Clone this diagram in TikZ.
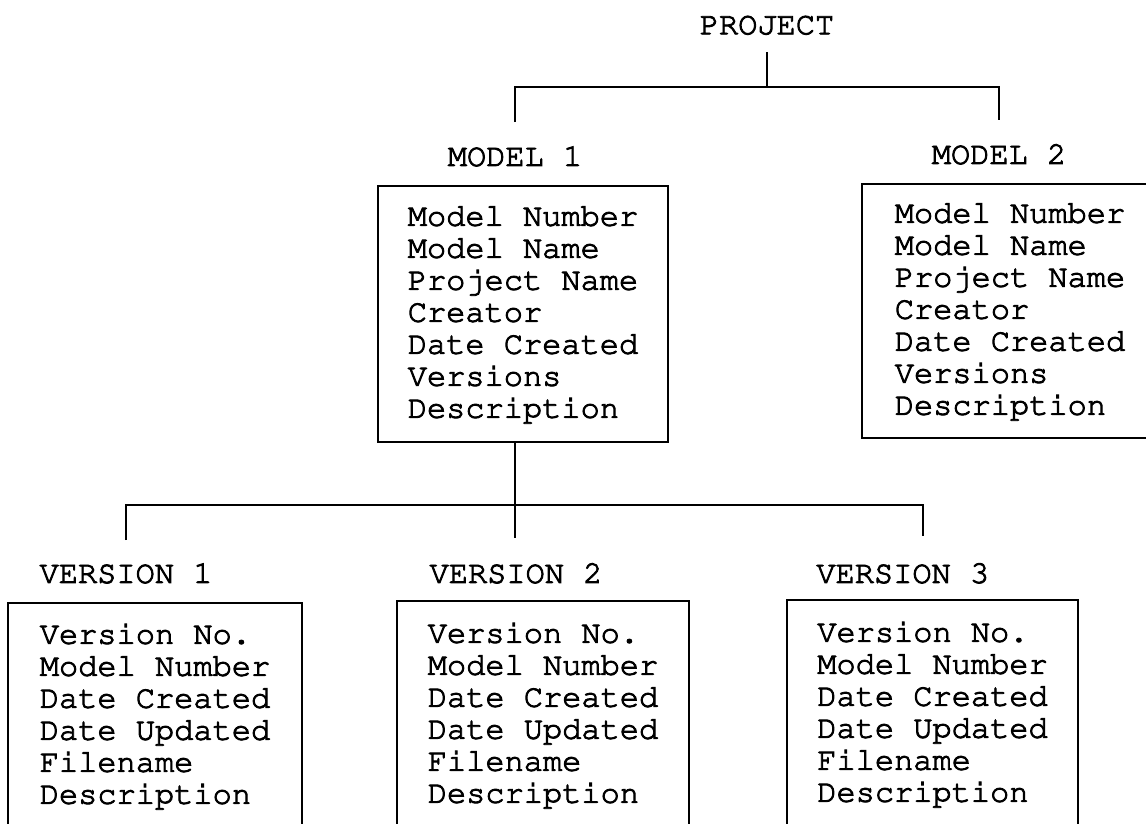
\documentclass[tikz,border=0pt]{standalone}
\usepackage[T1]{fontenc}
\usepackage{tikz}
\usetikzlibrary{positioning}

\begin{document}
\begin{tikzpicture}[x=0.5pt, y=-0.5pt,
  every node/.style={inner sep=0pt,
    font=\fontfamily{pcr}\fontsize{16pt}{16pt}\selectfont\special{pdf:literal direct 2 Tr 0.45 w}},
  caja/.style={draw, line width=1pt, outer sep=0pt, anchor=north west, align=left},
  linea/.style={line width=1pt}
]
\useasboundingbox (0,0) rectangle (1146,824);

% -------- Proyecto --------
\node (project) at (767,25) {PROJECT};
\coordinate (barra1) at (767,87);

% -------- Modelos --------
\node (m1lbl) at (515,156) {MODEL 1};
\node (m2lbl) at (999,154) {MODEL 2};

\node[caja, minimum width=145pt, minimum height=128pt] (m1box) at (378,186)
  {Model Number\\Model Name\\Project Name\\Creator\\Date Created\\Versions\\Description};
\node[caja, minimum width=148pt, minimum height=127pt] (m2box) at (862,184)
  {Model Number\\Model Name\\Project Name\\Creator\\Date Created\\Versions\\Description};

% Ramas del proyecto
\draw[linea, shorten <=8.5pt] (project.south) -- (project |- barra1);
\draw[linea, shorten <=11.5pt, shorten >=11.5pt]
  (m1lbl.north) -- (m1lbl |- barra1) -- (m2lbl |- barra1) -- (m2lbl.north);

% -------- Versiones --------
\node (v1lbl) at (126,573) {VERSION 1};
\node (v2lbl) at (516,573) {VERSION 2};
\node[anchor=west] (v3lbl) at (816,573) {VERSION 3};

\node[caja, minimum width=147pt, minimum height=113pt] (v1box) at (8,603)
  {Version No.\\Model Number\\Date Created\\Date Updated\\Filename\\Description};
\node[caja, minimum width=146pt, minimum height=114pt] (v2box) at (397,601)
  {Version No.\\Model Number\\Date Created\\Date Updated\\Filename\\Description};
\node[caja, minimum width=145.5pt, minimum height=114pt] (v3box) at (787,600)
  {Version No.\\Model Number\\Date Created\\Date Updated\\Filename\\Description};

% Ramas del modelo 1
\coordinate (barra2) at (515,505);
\coordinate (v3drop) at (923,505);
\draw[linea, shorten >=12pt] (m1lbl |- m1box.south) -- (m1lbl |- v2lbl.north);
\draw[linea, shorten <=11pt, shorten >=13pt]
  (v1lbl.north) -- (v1lbl |- barra2) -- (v3drop) -- (v3drop |- v3lbl.north);

\end{tikzpicture}
\end{document}
